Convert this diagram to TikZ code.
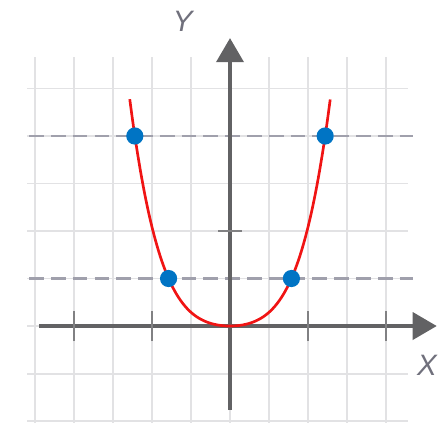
\documentclass[tikz,border=0pt]{standalone}
\usepackage{fontspec}
\setsansfont{Liberation Sans}
\usepackage{tikz}
\usetikzlibrary{arrows.meta}
\usepackage{xcolor}
\definecolor{gridgray}{RGB}{226,226,228}
\definecolor{axisgray}{RGB}{98,98,100}
\definecolor{dashgray}{RGB}{160,160,172}
\definecolor{curvered}{RGB}{240,20,20}
\definecolor{dotblue}{RGB}{0,116,196}
\definecolor{labelgray}{RGB}{112,112,124}

\begin{document}
\begin{tikzpicture}[x=0.975cm, y=1.1875cm,
      >={Triangle[length=0.6cm, width=0.68cm]},
      gridline/.style={gridgray, line width=1.4pt},
      axis/.style={->, axisgray, line width=2.2pt},
      ticmark/.style={axisgray!80, line width=1pt},
      level/.style={dashgray, line width=1.7pt, dash pattern=on 10.5pt off 5pt},
      dot/.style={circle, fill=dotblue, inner sep=0pt, minimum size=0.43cm},
      axlabel/.style={font=\sffamily\itshape\fontsize{21}{21}\selectfont,
                      text=labelgray}
    ]
    \useasboundingbox (-5.897,-2.021) rectangle (5.538,6.863);

    % grid
    \foreach \gx in {-5,...,4}
      \draw[gridline] (\gx,-2.1) -- (\gx,5.66);
    \foreach \gy in {-2,...,5}
      \draw[gridline] (-5.2,\gy) -- (4.56,\gy);

    % levels y=1 and y=4
    \draw[level] (-5.15,4) -- (4.7,4);
    \draw[level] (-5.15,1) -- (4.7,1);

    % axes
    \coordinate (xs) at (-4.9,0);
    \coordinate (xe) at (5.3,0);
    \coordinate (ys) at (0,-1.77);
    \coordinate (ye) at (0,6.06);
    \draw[axis] (xs) -- (xe);
    \draw[axis] (ys) -- (ye);

    \foreach \tx in {-4,-2,2,4}
      \draw[ticmark] (\tx,-0.32) -- (\tx,0.32);
    \draw[ticmark] (-0.3,2) -- (0.3,2);

    \node[axlabel] (ylab) at (-1.21,6.41) {Y};
    \node[axlabel] (xlab) at (5.05,-0.82) {X};

    % curve
    \draw[curvered, line width=1.9pt]
      plot[domain=-2.57:2.57, samples=100, smooth]
      (\x, {0.211*\x*\x + 0.0775*\x*\x*\x*\x});

    \node[dot] (pa) at (-2.44,4) {};
    \node[dot] (pb) at (-1.575,1) {};
    \node[dot] (pc) at (1.575,1) {};
    \node[dot] (pd) at (2.44,4) {};
  \end{tikzpicture}
\end{document}
